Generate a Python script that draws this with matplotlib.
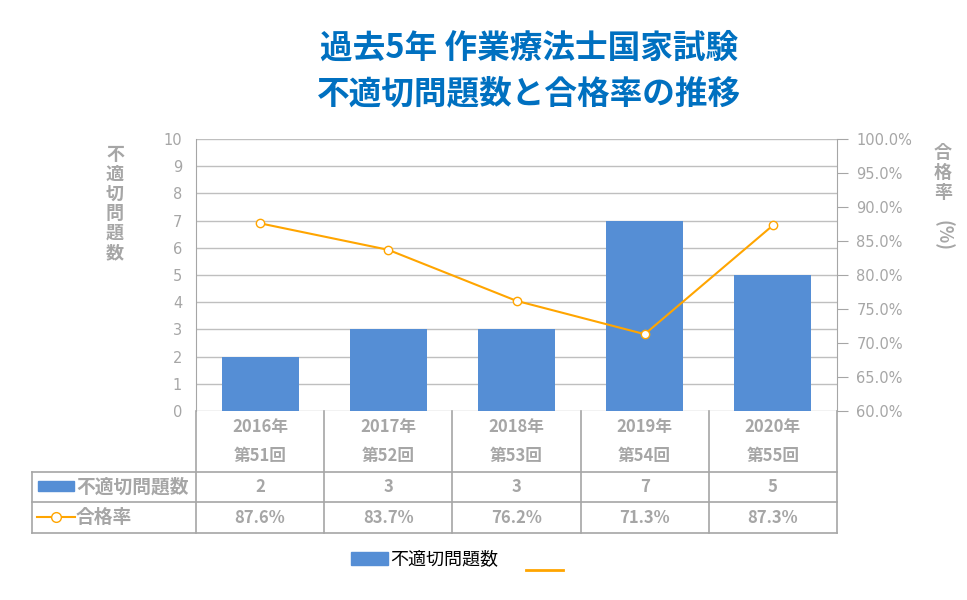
import matplotlib.pyplot as plt
import matplotlib.transforms as mtransforms
from matplotlib.patches import Rectangle
from matplotlib.lines import Line2D

plt.rcParams['font.family'] = ['Noto Sans CJK JP', 'DejaVu Sans']

# データ
years = ['2016年', '2017年', '2018年', '2019年', '2020年']
rounds = ['第51回', '第52回', '第53回', '第54回', '第55回']
inappropriate = [2, 3, 3, 7, 5]
pass_rate = [87.6, 83.7, 76.2, 71.3, 87.3]

W, H = 967, 600
bar_color = '#558ED5'
line_color = '#FFA500'
gray = '#A6A6A6'
title_color = '#0070C0'

fig = plt.figure(figsize=(W / 100, H / 100), dpi=100)

def fx(px):
    return px / W

def fy(py):
    return 1 - py / H

ax_left, ax_right, ax_top, ax_bottom = 196, 837, 139, 411
ax = fig.add_axes([fx(ax_left), fy(ax_bottom), fx(ax_right - ax_left), fy(ax_top) - fy(ax_bottom)])

x = list(range(len(years)))
ax.bar(x, inappropriate, width=0.6, color=bar_color, zorder=2)
ax.set_xlim(-0.5, len(years) - 0.5)
ax.set_ylim(0, 10)
ax.set_yticks(range(0, 11))
ax.grid(axis='y', color='#BFBFBF', linewidth=1, zorder=0)
ax.set_xticks([])
for s in ['top', 'right', 'bottom']:
    ax.spines[s].set_visible(False)
ax.spines['left'].set_color(gray)
ax.tick_params(axis='y', length=0, pad=10, labelcolor=gray, labelsize=10.5)
for lab in ax.get_yticklabels():
    lab.set_fontfamily('DejaVu Sans')

ax2 = ax.twinx()
ax2.plot(x, pass_rate, color=line_color, linewidth=1.5, marker='o', markersize=6,
         markerfacecolor='white', markeredgecolor=line_color, zorder=3)
ax2.set_ylim(60, 100)
ax2.set_yticks(range(60, 101, 5))
ax2.set_yticklabels([f'{v:.1f}%' for v in range(60, 101, 5)])
for s in ['top', 'left', 'bottom']:
    ax2.spines[s].set_visible(False)
ax2.spines['right'].set_color(gray)
ax2.tick_params(axis='y', length=8, color=gray, pad=6, labelcolor=gray, labelsize=10.5)
for lab in ax2.get_yticklabels():
    lab.set_fontfamily('DejaVu Sans')

# タイトル
fig.text(fx(529), fy(48), '過去5年 作業療法士国家試験', ha='center', va='center',
         fontsize=23.5, fontweight='bold', color=title_color)
fig.text(fx(529), fy(94), '不適切問題数と合格率の推移', ha='center', va='center',
         fontsize=23.5, fontweight='bold', color=title_color)

# 軸ラベル（縦書き）
fig.text(fx(115), fy(145), '\n'.join('不適切問題数'), ha='center', va='top',
         fontsize=13, fontweight='bold', color=gray, linespacing=1.05)
fig.text(fx(943), fy(143), '\n'.join('合格率'), ha='center', va='top',
         fontsize=13, fontweight='bold', color=gray, linespacing=1.05)
fig.text(fx(943), fy(220), '(%)', ha='center', va='top', rotation=270,
         fontsize=13, fontweight='bold', color=gray)

# データテーブル
bt = mtransforms.blended_transform_factory(ax.transData, fig.transFigure)
row_y = [411, 472, 502, 533]
tbl_left = 32

def fig_line(xs, ys, **kw):
    fig.add_artist(Line2D(xs, ys, transform=fig.transFigure, color=gray, linewidth=1.2, **kw))

for i in range(len(years) + 1):
    fig.add_artist(Line2D([i - 0.5, i - 0.5], [fy(row_y[0]), fy(row_y[-1])],
                          transform=bt, color=gray, linewidth=1.2))
fig_line([fx(tbl_left), fx(ax_right)], [fy(row_y[1]), fy(row_y[1])])
fig_line([fx(tbl_left), fx(ax_right)], [fy(row_y[2]), fy(row_y[2])])
fig_line([fx(tbl_left), fx(ax_right)], [fy(row_y[3]), fy(row_y[3])])
fig_line([fx(tbl_left), fx(tbl_left)], [fy(row_y[1]), fy(row_y[3])])

cell_kw = dict(ha='center', va='center', color=gray, fontweight='bold', fontsize=12, transform=bt)
for i in x:
    fig.text(i, fy(427), years[i], **cell_kw)
    fig.text(i, fy(456), rounds[i], **cell_kw)
    fig.text(i, fy(487), str(inappropriate[i]), **cell_kw)
    fig.text(i, fy(518), f'{pass_rate[i]:.1f}%', **cell_kw)

# テーブル内の凡例
fig.add_artist(Rectangle((fx(38), fy(491)), fx(36), fy(481) - fy(491),
                         transform=fig.transFigure, color=bar_color))
fig.text(fx(76), fy(487), '不適切問題数', ha='left', va='center', color=gray,
         fontweight='bold', fontsize=13.5)
fig.add_artist(Line2D([fx(37), fx(75)], [fy(517), fy(517)], transform=fig.transFigure,
                      color=line_color, linewidth=1.5))
fig.add_artist(Line2D([fx(56)], [fy(517)], transform=fig.transFigure, color=line_color,
                      marker='o', markersize=7, markerfacecolor='white', linestyle='none'))
fig.text(fx(76), fy(517), '合格率', ha='left', va='center', color=gray,
         fontweight='bold', fontsize=13.5)

# 下部の凡例
fig.add_artist(Rectangle((fx(351), fy(565)), fx(37), fy(552) - fy(565),
                         transform=fig.transFigure, color=bar_color))
fig.text(fx(390), fy(559), '不適切問題数', ha='left', va='center', color='black', fontsize=13)
fig.add_artist(Line2D([fx(526), fx(563)], [fy(570), fy(570)], transform=fig.transFigure,
                      color=line_color, linewidth=2))

plt.savefig('out.png', dpi=100)
